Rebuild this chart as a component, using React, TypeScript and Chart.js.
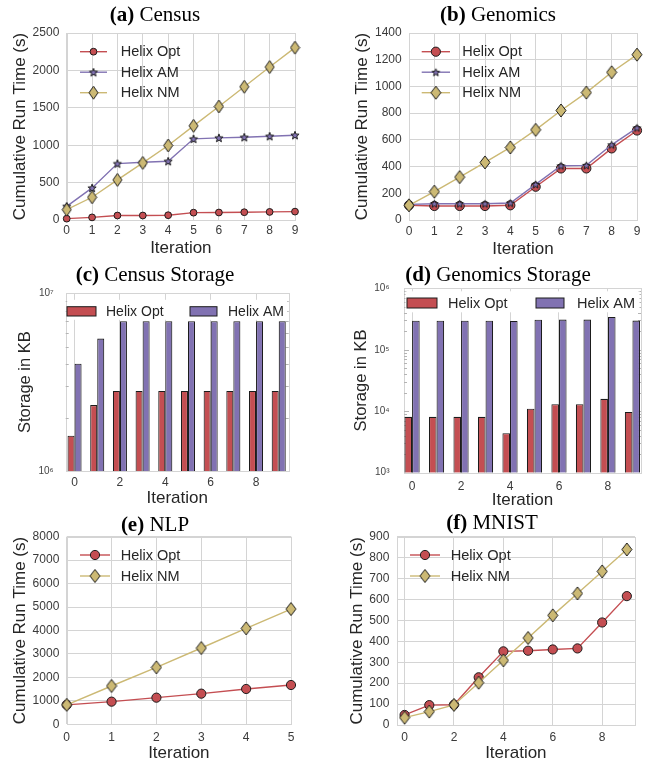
import React, { useEffect, useRef } from 'react';
import { Chart, registerables } from 'chart.js';

Chart.register(...registerables);

// ---------------- data ----------------
const iterations10 = [0, 1, 2, 3, 4, 5, 6, 7, 8, 9];
const iterations6 = [0, 1, 2, 3, 4, 5];
const evenIterTicks = [0, 2, 4, 6, 8];

const censusOpt = [18, 35, 60, 60, 64, 98, 100, 104, 108, 112];
const censusAM = [183, 429, 754, 772, 786, 1085, 1098, 1107, 1120, 1134];
const censusNM = [138, 304, 536, 763, 996, 1259, 1518, 1781, 2045, 2304];
const censusYTicks = [0, 500, 1000, 1500, 2000, 2500];

const genomicsOpt = [110, 105, 105, 105, 110, 249, 386, 386, 536, 670];
const genomicsAM = [117, 122, 122, 122, 127, 267, 406, 409, 563, 690];
const genomicsNM = [110, 212, 321, 431, 543, 675, 820, 954, 1106, 1238];
const genomicsYTicks = [0, 200, 400, 600, 800, 1000, 1200, 1400];

const censusStorageOpt = [1.58e6, 2.35e6, 2.82e6, 2.82e6, 2.82e6, 2.82e6, 2.82e6, 2.82e6, 2.82e6, 2.82e6];
const censusStorageAM = [4.02e6, 5.56e6, 6.96e6, 6.96e6, 6.96e6, 6.96e6, 6.96e6, 6.96e6, 6.96e6, 6.96e6];
const censusStorageYTicks = [1e6, 1e7];

const genomicsStorageOpt = [8.1e3, 8.1e3, 8.1e3, 8.1e3, 4.4e3, 1.1e4, 1.3e4, 1.3e4, 1.59e4, 9.75e3];
const genomicsStorageAM = [2.97e5, 2.97e5, 2.97e5, 2.97e5, 2.95e5, 3.08e5, 3.1e5, 3.1e5, 3.41e5, 2.98e5];
const genomicsStorageYTicks = [1e3, 1e4, 1e5, 1e6];

const nlpOpt = [830, 966, 1136, 1307, 1506, 1676];
const nlpNM = [830, 1634, 2429, 3253, 4091, 4915];
const nlpYTicks = [0, 1000, 2000, 3000, 4000, 5000, 6000, 7000, 8000];

const mnistOpt = [48, 95, 97, 228, 352, 355, 361, 366, 490, 616];
const mnistNM = [35, 64, 96, 202, 309, 416, 524, 629, 734, 839];
const mnistYTicks = [0, 100, 200, 300, 400, 500, 600, 700, 800, 900];

const seriesOpt = 'Helix Opt';
const seriesAM = 'Helix AM';
const seriesNM = 'Helix NM';
const xTitle = 'Iteration';
const runTimeTitle = 'Cumulative Run Time (s)';
const storageTitle = 'Storage in KB';

const panelTitles = [
  { tag: '(a)', name: 'Census', cx: 155, cy: 14 },
  { tag: '(b)', name: 'Genomics', cx: 498, cy: 14 },
  { tag: '(c)', name: 'Census Storage', cx: 155, cy: 274 },
  { tag: '(d)', name: 'Genomics Storage', cx: 498, cy: 274 },
  { tag: '(e)', name: 'NLP', cx: 155, cy: 524 },
  { tag: '(f)', name: 'MNIST', cx: 492, cy: 522 },
];

// ---------------- styles ----------------
const SANS = '"Liberation Sans", Arial, Helvetica, sans-serif';
const SERIF = '"Liberation Serif", "Times New Roman", Times, serif';
const RED = '#c44e52';
const PURPLE = '#8172b2';
const GOLD = '#ccb974';
const EDGE = '#1c1c1c';
const GRID = '#d4d4d4';
const TICK_C = '#3a3a3a';
const LABEL_C = '#262626';

const pairs = (xs: number[], ys: number[]) => xs.map((x, i) => ({ x, y: ys[i] }));
const SUP = '⁰¹²³⁴⁵⁶⁷⁸⁹';
const sup = (n: number) => String(n).split('').map((d) => SUP[+d]).join('');

function makeDiamond(w: number, h: number, fill: string) {
  const c = document.createElement('canvas');
  c.width = Math.round(w) + 2;
  c.height = Math.round(h) + 2;
  const g = c.getContext('2d')!;
  const cx = c.width / 2, cy = c.height / 2;
  g.beginPath();
  g.moveTo(cx, 1);
  g.lineTo(c.width - 1, cy);
  g.lineTo(cx, c.height - 1);
  g.lineTo(1, cy);
  g.closePath();
  g.fillStyle = fill;
  g.fill();
  g.lineWidth = 1;
  g.strokeStyle = EDGE;
  g.stroke();
  return c;
}

function makeStar(r: number, fill: string) {
  const c = document.createElement('canvas');
  const s = Math.ceil(2 * r) + 3;
  c.width = s;
  c.height = s;
  const g = c.getContext('2d')!;
  const cx = s / 2, cy = s / 2 + 0.4;
  g.beginPath();
  for (let k = 0; k < 10; k++) {
    const a = -Math.PI / 2 + (k * Math.PI) / 5;
    const rad = k % 2 === 0 ? r : r * 0.42;
    const px = cx + rad * Math.cos(a), py = cy + rad * Math.sin(a);
    if (k === 0) g.moveTo(px, py); else g.lineTo(px, py);
  }
  g.closePath();
  g.fillStyle = fill;
  g.fill();
  g.lineWidth = 1;
  g.strokeStyle = EDGE;
  g.stroke();
  return c;
}

function drawMarker(ctx: CanvasRenderingContext2D, ds: any, x: number, y: number) {
  const st = ds.pointStyle;
  if (st && typeof st === 'object') {
    ctx.drawImage(st, x - st.width / 2, y - st.height / 2);
    return;
  }
  ctx.beginPath();
  ctx.arc(x, y, ds.pointRadius, 0, Math.PI * 2);
  ctx.fillStyle = ds.pointBackgroundColor;
  ctx.fill();
  ctx.lineWidth = ds.pointBorderWidth;
  ctx.strokeStyle = EDGE;
  ctx.stroke();
}

const framePlugin = {
  id: 'frame',
  beforeDatasetsDraw(chart: any) {
    const { ctx, chartArea: ca } = chart;
    const l = Math.round(ca.left), t = Math.round(ca.top), r = Math.round(ca.right), b = Math.round(ca.bottom);
    ctx.save();
    ctx.strokeStyle = GRID;
    ctx.lineWidth = 1;
    ctx.strokeRect(l + 0.5, t + 0.5, r - l, b - t);
    ctx.restore();
  },
};

const logMinorPlugin = {
  id: 'logMinor',
  beforeDatasetsDraw(chart: any) {
    const ys = chart.scales.y;
    const { ctx, chartArea: ca } = chart;
    const lo = Math.round(Math.log10(ys.min)), hi = Math.round(Math.log10(ys.max));
    ctx.save();
    ctx.strokeStyle = '#b4b4b4';
    ctx.lineWidth = 1;
    ctx.beginPath();
    for (let e = lo; e < hi; e++) {
      for (let m = 1; m <= 9; m++) {
        if (m === 1 && e === lo) continue;
        const len = m === 1 ? 5 : 3;
        const py = Math.round(ys.getPixelForValue(m * Math.pow(10, e))) + 0.5;
        ctx.moveTo(ca.left, py);
        ctx.lineTo(ca.left + len, py);
        ctx.moveTo(ca.right - len, py);
        ctx.lineTo(ca.right, py);
      }
    }
    ctx.stroke();
    ctx.restore();
  },
};

function lineLegend(o: { dx: number; len: number; tx: number; dy: number; gap: number; size: number }) {
  return {
    id: 'lineLegend',
    afterDraw(chart: any) {
      const { ctx, chartArea: ca } = chart;
      chart.data.datasets.forEach((ds: any, i: number) => {
        const y = ca.top + o.dy + i * o.gap;
        const x0 = ca.left + o.dx;
        ctx.save();
        ctx.strokeStyle = ds.borderColor;
        ctx.lineWidth = ds.borderWidth;
        ctx.beginPath();
        ctx.moveTo(x0, y);
        ctx.lineTo(x0 + o.len, y);
        ctx.stroke();
        drawMarker(ctx, ds, x0 + o.len / 2, y);
        ctx.fillStyle = LABEL_C;
        ctx.font = `${o.size}px ${SANS}`;
        ctx.textBaseline = 'middle';
        ctx.textAlign = 'left';
        ctx.fillText(ds.label, ca.left + o.tx, y + 0.5);
        ctx.restore();
      });
    },
  };
}

function barLegend(o: { boxDx: number[]; boxW: number[]; textDx: number[]; dy: number; boxH: number; size: number; bgTop: number; bgBottom: number }) {
  return {
    id: 'barLegend',
    afterDraw(chart: any) {
      const { ctx, chartArea: ca } = chart;
      ctx.save();
      ctx.fillStyle = '#ffffff';
      ctx.fillRect(ca.left + 1.5, ca.top + o.bgTop, ca.right - ca.left - 3, o.bgBottom - o.bgTop);
      chart.data.datasets.forEach((ds: any, i: number) => {
        const x = ca.left + o.boxDx[i];
        const y = ca.top + o.dy;
        ctx.fillStyle = ds.backgroundColor;
        ctx.fillRect(x, y, o.boxW[i], o.boxH);
        ctx.strokeStyle = EDGE;
        ctx.lineWidth = 1;
        ctx.strokeRect(x, y, o.boxW[i], o.boxH);
        ctx.fillStyle = LABEL_C;
        ctx.font = `${o.size}px ${SANS}`;
        ctx.textBaseline = 'middle';
        ctx.textAlign = 'left';
        ctx.fillText(ds.label, ca.left + o.textDx[i], y + o.boxH / 2 + 0.5);
      });
      ctx.restore();
    },
  };
}

function zeroPad(s: any) {
  s.paddingLeft = 0;
  s.paddingRight = 0;
  s.paddingTop = 0;
  s.paddingBottom = 0;
}

function xAxis(o: { min: number; max: number; ticks: number[]; height: number; tickPad: number; titlePad: number }) {
  return {
    type: 'linear',
    position: 'bottom',
    min: o.min,
    max: o.max,
    offset: false,
    afterBuildTicks: (s: any) => {
      s.ticks = o.ticks.map((v) => ({ value: v }));
    },
    afterFit: (s: any) => {
      s.height = o.height;
      zeroPad(s);
    },
    grid: { display: true, color: GRID, lineWidth: 1, drawTicks: false, offset: false },
    border: { display: false },
    ticks: {
      color: TICK_C,
      font: { family: SANS, size: 12 },
      padding: o.tickPad,
      maxRotation: 0,
      autoSkip: false,
      callback: (v: any) => String(v),
    },
    title: {
      display: true,
      text: xTitle,
      color: LABEL_C,
      font: { family: SANS, size: 17 },
      padding: { top: 0, bottom: o.titlePad },
    },
  };
}

function yLinear(o: { max: number; ticks: number[]; width: number; tickPad: number; titlePad: number }) {
  return {
    type: 'linear',
    position: 'left',
    min: 0,
    max: o.max,
    afterBuildTicks: (s: any) => {
      s.ticks = o.ticks.map((v) => ({ value: v }));
    },
    afterFit: (s: any) => {
      s.width = o.width;
      zeroPad(s);
    },
    grid: { display: true, color: GRID, lineWidth: 1, drawTicks: false },
    border: { display: false },
    ticks: { color: TICK_C, font: { family: SANS, size: 12 }, padding: o.tickPad, autoSkip: false, callback: (v: any) => String(v) },
    title: {
      display: true,
      text: runTimeTitle,
      color: LABEL_C,
      font: { family: SANS, size: 17 },
      padding: { top: o.titlePad, bottom: 0 },
    },
  };
}

function yLog(o: { min: number; max: number; ticks: number[]; width: number; tickPad: number; titlePad: number }) {
  return {
    type: 'logarithmic',
    position: 'left',
    min: o.min,
    max: o.max,
    afterBuildTicks: (s: any) => {
      s.ticks = o.ticks.map((v) => ({ value: v }));
    },
    afterFit: (s: any) => {
      s.width = o.width;
      zeroPad(s);
    },
    grid: { display: false, drawTicks: false },
    border: { display: false },
    ticks: {
      color: '#444444',
      font: { family: SANS, size: 10 },
      padding: o.tickPad,
      autoSkip: false,
      callback: (v: any) => '10' + sup(Math.round(Math.log10(v))),
    },
    title: {
      display: true,
      text: storageTitle,
      color: LABEL_C,
      font: { family: SANS, size: 16.5 },
      padding: { top: o.titlePad, bottom: 0 },
    },
  };
}

function lineSeries(label: string, xs: number[], ys: number[], color: string, marker: any, radius: number, order: number) {
  return {
    type: 'line',
    label,
    data: pairs(xs, ys),
    borderColor: color,
    backgroundColor: color,
    borderWidth: 1.4,
    pointStyle: marker,
    pointRadius: radius,
    pointHoverRadius: radius,
    pointBackgroundColor: color,
    pointBorderColor: EDGE,
    pointBorderWidth: 1,
    tension: 0,
    fill: false,
    clip: false,
    order,
  };
}

function barSeries(label: string, xs: number[], ys: number[], color: string) {
  return {
    type: 'bar',
    label,
    data: pairs(xs, ys),
    backgroundColor: color,
    borderColor: EDGE,
    borderWidth: 1.1,
    categoryPercentage: 0.62,
    barPercentage: 1,
  };
}

const baseOptions = (padding: any) => ({
  responsive: false,
  maintainAspectRatio: false,
  animation: false,
  events: [],
  layout: { padding },
  plugins: { legend: { display: false }, tooltip: { enabled: false }, title: { display: false } },
});

type PanelDef = { left: number; top: number; width: number; height: number; build: () => any };

const panels: PanelDef[] = [
  {
    left: 0, top: 20, width: 305, height: 240,
    build: () => ({
      type: 'line',
      data: {
        datasets: [
          lineSeries(seriesOpt, iterations10, censusOpt, RED, 'circle', 3.4, 3),
          lineSeries(seriesAM, iterations10, censusAM, PURPLE, makeStar(4.3, PURPLE), 4, 2),
          lineSeries(seriesNM, iterations10, censusNM, GOLD, makeDiamond(9, 13, GOLD), 5, 1),
        ],
      },
      options: {
        ...baseOptions({ left: 0, top: 13, right: 10, bottom: 0 }),
        scales: {
          x: xAxis({ min: 0, max: 9, ticks: iterations10, height: 40, tickPad: 3, titlePad: 1.5 }),
          y: yLinear({ max: 2500, ticks: censusYTicks, width: 66.7, tickPad: 7.4, titlePad: 9.8 }),
        },
      },
      plugins: [framePlugin, lineLegend({ dx: 13.3, len: 27, tx: 54, dy: 18.7, gap: 20.5, size: 14.5 })],
    }),
  },
  {
    left: 330, top: 20, width: 322, height: 241,
    build: () => ({
      type: 'line',
      data: {
        datasets: [
          lineSeries(seriesOpt, iterations10, genomicsOpt, RED, 'circle', 4.6, 3),
          lineSeries(seriesAM, iterations10, genomicsAM, PURPLE, makeStar(4, PURPLE), 4, 2),
          lineSeries(seriesNM, iterations10, genomicsNM, GOLD, makeDiamond(10, 13, GOLD), 5, 1),
        ],
      },
      options: {
        ...baseOptions({ left: 0, top: 13, right: 15, bottom: 0 }),
        scales: {
          x: xAxis({ min: 0, max: 9, ticks: iterations10, height: 41, tickPad: 4.2, titlePad: 1.2 }),
          y: yLinear({ max: 1400, ticks: genomicsYTicks, width: 79, tickPad: 7.3, titlePad: 21.8 }),
        },
      },
      plugins: [framePlugin, lineLegend({ dx: 12.7, len: 28.3, tx: 53.3, dy: 18.7, gap: 20.5, size: 14.5 })],
    }),
  },
  {
    left: 0, top: 280, width: 300, height: 230,
    build: () => ({
      type: 'bar',
      data: {
        datasets: [
          barSeries(seriesOpt, iterations10, censusStorageOpt, RED),
          barSeries(seriesAM, iterations10, censusStorageAM, PURPLE),
        ],
      },
      options: {
        ...baseOptions({ left: 0, top: 13.3, right: 11.3, bottom: 0 }),
        scales: {
          x: xAxis({ min: -0.39, max: 9.44, ticks: evenIterTicks, height: 39, tickPad: 4.1, titlePad: 1.8 }),
          y: yLog({ min: 1e6, max: 1e7, ticks: censusStorageYTicks, width: 65.7, tickPad: 12, titlePad: 16 }),
        },
      },
      plugins: [
        framePlugin,
        logMinorPlugin,
        barLegend({ boxDx: [1.3, 124.3], boxW: [29, 27], textDx: [40.3, 162.3], dy: 13.4, boxH: 9.3, size: 14, bgTop: 6.5, bgBottom: 26.5 }),
      ],
    }),
  },
  {
    left: 330, top: 275, width: 322, height: 237,
    build: () => ({
      type: 'bar',
      data: {
        datasets: [
          barSeries(seriesOpt, iterations10, genomicsStorageOpt, RED),
          barSeries(seriesAM, iterations10, genomicsStorageAM, PURPLE),
        ],
      },
      options: {
        ...baseOptions({ left: 0, top: 13.3, right: 11, bottom: 0 }),
        scales: {
          x: xAxis({ min: -0.33, max: 9.35, ticks: evenIterTicks, height: 39.3, tickPad: 7, titlePad: 1.1 }),
          y: yLog({ min: 1e3, max: 1e6, ticks: genomicsStorageYTicks, width: 74, tickPad: 14.5, titlePad: 21.8 }),
        },
      },
      plugins: [
        framePlugin,
        logMinorPlugin,
        barLegend({ boxDx: [3, 132], boxW: [30, 28], textDx: [44, 173], dy: 9.7, boxH: 10, size: 14.5, bgTop: 3, bgBottom: 24 }),
      ],
    }),
  },
  {
    left: 0, top: 522, width: 297, height: 242,
    build: () => ({
      type: 'line',
      data: {
        datasets: [
          lineSeries(seriesOpt, iterations6, nlpOpt, RED, 'circle', 4.6, 2),
          lineSeries(seriesNM, iterations6, nlpNM, GOLD, makeDiamond(10, 13, GOLD), 5, 1),
        ],
      },
      options: {
        ...baseOptions({ left: 0, top: 14.7, right: 2.3, bottom: 0 }),
        scales: {
          x: xAxis({ min: 0, max: 5, ticks: iterations6, height: 39.7, tickPad: 6, titlePad: 0.5 }),
          y: yLinear({ max: 8000, ticks: nlpYTicks, width: 66.7, tickPad: 7.4, titlePad: 9.8 }),
        },
      },
      plugins: [framePlugin, lineLegend({ dx: 13.3, len: 30, tx: 54, dy: 18.3, gap: 21, size: 14.5 })],
    }),
  },
  {
    left: 330, top: 522, width: 322, height: 242,
    build: () => ({
      type: 'line',
      data: {
        datasets: [
          lineSeries(seriesOpt, iterations10, mnistOpt, RED, 'circle', 4.6, 2),
          lineSeries(seriesNM, iterations10, mnistNM, GOLD, makeDiamond(10, 13, GOLD), 5, 1),
        ],
      },
      options: {
        ...baseOptions({ left: 0, top: 14.7, right: 17, bottom: 0 }),
        scales: {
          x: xAxis({ min: -0.32, max: 9.33, ticks: evenIterTicks, height: 39, tickPad: 5, titlePad: 0.5 }),
          y: yLinear({ max: 900, ticks: mnistYTicks, width: 66.7, tickPad: 7.4, titlePad: 17.1 }),
        },
      },
      plugins: [framePlugin, lineLegend({ dx: 13.3, len: 30, tx: 54, dy: 18.3, gap: 21, size: 14.6 })],
    }),
  },
];

function Panel({ def }: { def: PanelDef }) {
  const ref = useRef<HTMLCanvasElement>(null);
  useEffect(() => {
    if (!ref.current) return;
    const chart = new Chart(ref.current, def.build());
    return () => chart.destroy();
  }, [def]);
  return (
    <div style={{ position: 'absolute', left: def.left, top: def.top, width: def.width, height: def.height }}>
      <canvas ref={ref} width={def.width} height={def.height} style={{ width: def.width, height: def.height, display: 'block' }} />
    </div>
  );
}

export default function App() {
  return (
    <div style={{ position: 'absolute', left: 0, top: 0, width: 652, height: 764, background: '#ffffff', overflow: 'hidden' }}>
      {panels.map((p, i) => (
        <Panel key={i} def={p} />
      ))}
      {panelTitles.map((t, i) => (
        <div
          key={'t' + i}
          style={{
            position: 'absolute',
            left: t.cx,
            top: t.cy,
            transform: 'translate(-50%, -50%)',
            fontFamily: SERIF,
            fontSize: 21,
            lineHeight: 1,
            whiteSpace: 'nowrap',
            color: '#000000',
          }}
        >
          <b>{t.tag}</b> {t.name}
        </div>
      ))}
    </div>
  );
}
